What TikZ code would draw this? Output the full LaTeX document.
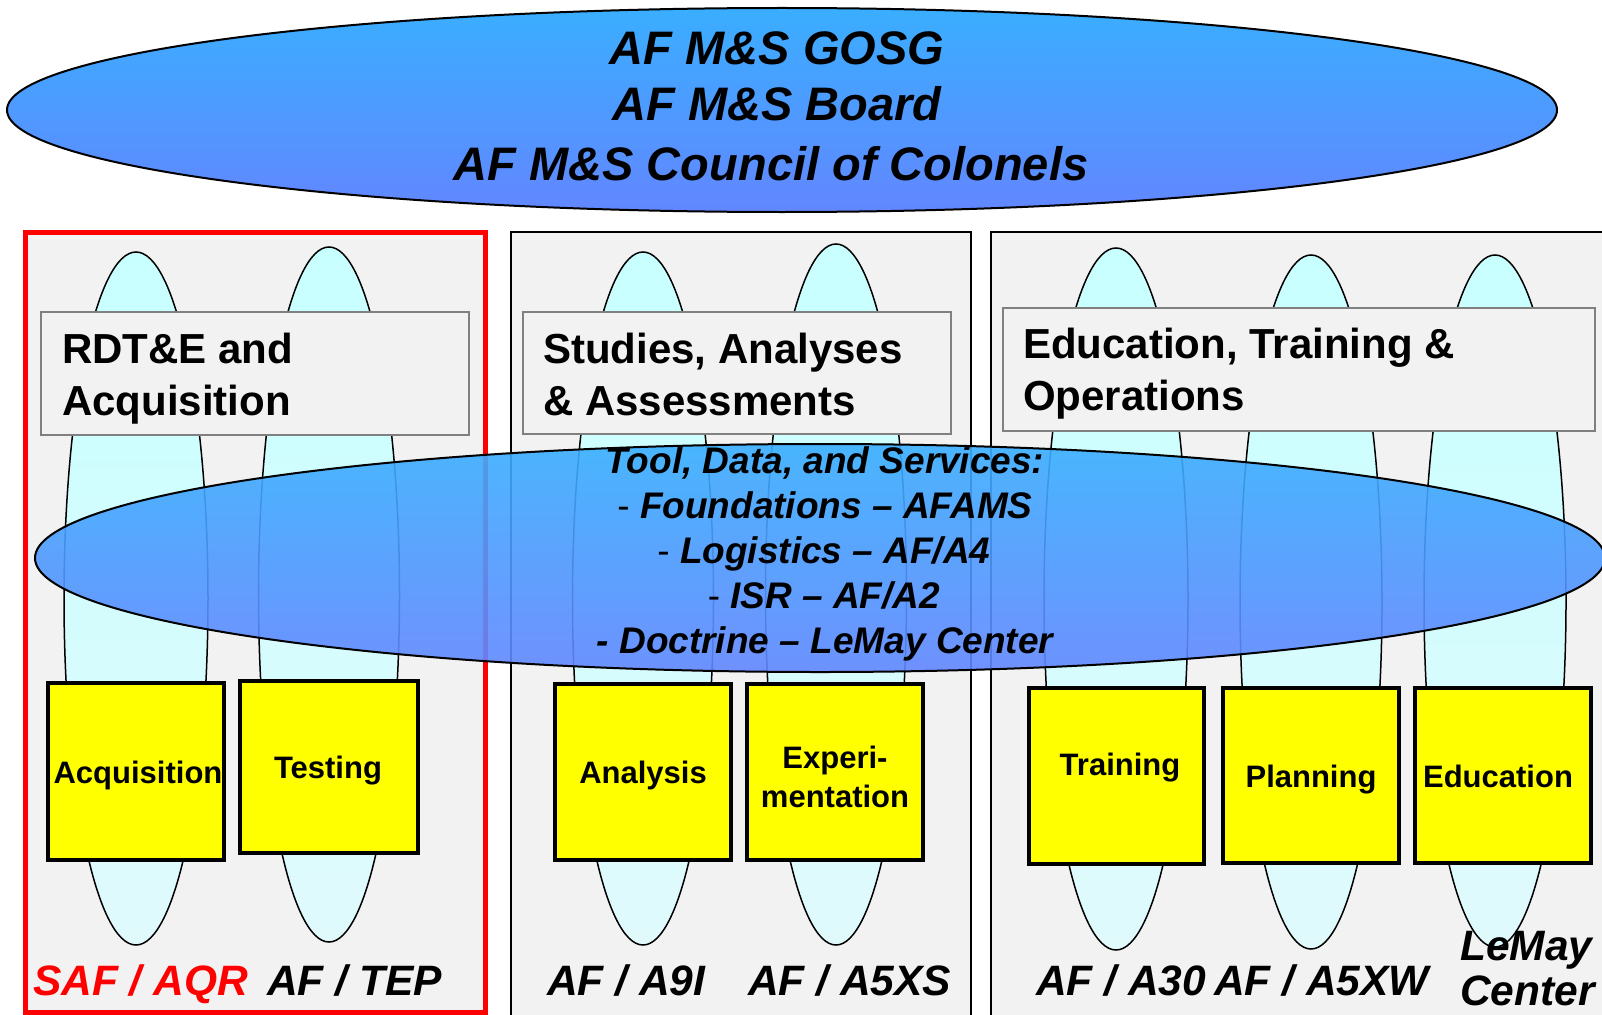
\documentclass[tikz,border=0pt]{standalone}
\usepackage{fontspec}
\setmainfont{Liberation Sans}
\usetikzlibrary{shapes.geometric}
\definecolor{panelgrey}{HTML}{F2F2F2}
\definecolor{headgrey}{HTML}{808080}
\definecolor{bluetop}{RGB}{58,174,255}
\definecolor{bluebot}{RGB}{98,134,255}
\definecolor{pillartop}{RGB}{200,255,255}
\definecolor{pillarbot}{RGB}{224,250,252}
\definecolor{boxyellow}{RGB}{255,255,0}
\definecolor{orgred}{RGB}{255,0,0}
\begin{document}
\begin{tikzpicture}[x=1pt,y=-1pt,
  panel/.style={draw=black, line width=2.5pt, fill=panelgrey, anchor=north west, inner sep=0pt, outer sep=0pt},
  pillar/.style={ellipse, draw=black, line width=1.5pt, top color=pillartop, bottom color=pillarbot, inner sep=0pt, outer sep=0pt},
  headbox/.style={draw=headgrey, line width=2pt, fill=panelgrey, anchor=north west, inner sep=0pt, outer sep=0pt},
  headtxt/.style={anchor=base west, inner sep=0pt, font=\fontsize{42}{50}\selectfont\bfseries},
  funcbox/.style={draw=black, line width=4.5pt, fill=boxyellow, anchor=north west, inner sep=0pt, outer sep=0pt},
  functxt/.style={anchor=base, inner sep=0pt, font=\fontsize{31}{37}\selectfont\bfseries},
  orgtxt/.style={anchor=base west, inner sep=0pt, font=\fontsize{42.5}{48}\selectfont\bfseries\itshape},
  govtxt/.style={anchor=base, inner sep=0pt, font=\fontsize{47}{57}\selectfont\bfseries\itshape},
  tooltxt/.style={anchor=base, inner sep=0pt, font=\fontsize{37}{45}\selectfont\bfseries\itshape},
  bigell/.style={ellipse, draw=black, line width=2pt, top color=bluetop, bottom color=bluebot, inner sep=0pt, outer sep=0pt}
]
\useasboundingbox (0,0) rectangle (1602,1014);
\clip (0,0) rectangle (1602,1014);
\fill[white] (0,0) rectangle (1602,1014);

% governance ellipse
\node[bigell, minimum width=1550pt, minimum height=204pt] (gov) at (782,110) {};
\node[govtxt] (gov1) at (777,65) {AF M\&S GOSG};
\node[govtxt] (gov2) at (777,121) {AF M\&S Board};
\node[govtxt] (gov3) at (771,180) {AF M\&S Council of Colonels};

% panels
\node[panel, minimum width=800pt, minimum height=800pt] (pright) at (991,232) {};
\node[panel, minimum width=460pt, minimum height=800pt] (pmid) at (511,232) {};
\node[panel, draw=orgred, line width=5pt, minimum width=460pt, minimum height=780pt] (pleft) at (25,232) {};

% pillars
\node[pillar, minimum width=144pt, minimum height=693pt] (e1) at (136,598.5) {};
\node[pillar, minimum width=141pt, minimum height=695pt] (e2) at (329,594.5) {};
\node[pillar, minimum width=141pt, minimum height=693pt] (e3) at (643,598.5) {};
\node[pillar, minimum width=141pt, minimum height=701pt] (e4) at (836,594.5) {};
\node[pillar, minimum width=144pt, minimum height=702pt] (e5) at (1116,599) {};
\node[pillar, minimum width=142pt, minimum height=694pt] (e6) at (1311,602) {};
\node[pillar, minimum width=142pt, minimum height=692pt] (e7) at (1495,601) {};

% heading boxes
\node[headbox, minimum width=428pt, minimum height=123pt] (h1) at (41,312) {};
\node[headbox, minimum width=428pt, minimum height=122pt] (h2) at (523,312) {};
\node[headbox, minimum width=592pt, minimum height=123pt] (h3) at (1003,308) {};
\node[headtxt] (h1a) at (62,363) {RDT\&E and};
\node[headtxt] (h1b) at (62,415) {Acquisition};
\node[headtxt] (h2a) at (543,363) {Studies, Analyses};
\node[headtxt] (h2b) at (543,415) {\& Assessments};
\node[headtxt] (h3a) at (1023,358) {Education, Training \&};
\node[headtxt] (h3b) at (1023,410) {Operations};

% tools ellipse
\node[bigell, fill opacity=0.9, minimum width=1570pt, minimum height=228pt] (tools) at (820,558) {};
\node[tooltxt] (t1) at (825,473) {Tool, Data, and Services:};
\node[tooltxt] (t2) at (825,518) {{\mdseries\upshape -} Foundations -- AFAMS};
\node[tooltxt] (t3) at (824,563) {{\mdseries\upshape -} Logistics -- AF/A4};
\node[tooltxt] (t4) at (824,608) {{\mdseries\upshape -} ISR -- AF/A2};
\node[tooltxt] (t5) at (825,653) {- Doctrine -- LeMay Center};

% function boxes
\node[funcbox, minimum width=176pt, minimum height=177pt] (bacq) at (48,683) {};
\node[funcbox, minimum width=178pt, minimum height=172pt] (btest) at (240,681) {};
\node[funcbox, minimum width=176pt, minimum height=176pt] (bana) at (555,684) {};
\node[funcbox, minimum width=176pt, minimum height=176pt] (bexp) at (747,684) {};
\node[funcbox, minimum width=175pt, minimum height=176pt] (btrain) at (1029,688) {};
\node[funcbox, minimum width=176pt, minimum height=175pt] (bplan) at (1223,688) {};
\node[funcbox, minimum width=176pt, minimum height=175pt] (bedu) at (1415,688) {};

\node[functxt] (lacq) at (138,783) {Acquisition};
\node[functxt] (ltest) at (328,778) {Testing};
\node[functxt] (lana) at (643,783) {Analysis};
\node[functxt] (lexp1) at (835,768) {Experi-};
\node[functxt] (lexp2) at (835,807) {mentation};
\node[functxt] (ltrain) at (1120,775) {Training};
\node[functxt] (lplan) at (1311,787) {Planning};
\node[functxt] (ledu) at (1498,787) {Education};

% organisations
\node[orgtxt, text=orgred] (o1) at (33,995) {SAF / AQR};
\node[orgtxt] (o2) at (267,995) {AF / TEP};
\node[orgtxt] (o3) at (547,995) {AF / A9I};
\node[orgtxt] (o4) at (748,995) {AF / A5XS};
\node[orgtxt] (o5) at (1036,995) {AF / A30};
\node[orgtxt] (o6) at (1214,995) {AF / A5XW};
\node[orgtxt] (o7a) at (1460,960) {LeMay};
\node[orgtxt] (o7b) at (1460,1005) {Center};
\end{tikzpicture}
\end{document}
